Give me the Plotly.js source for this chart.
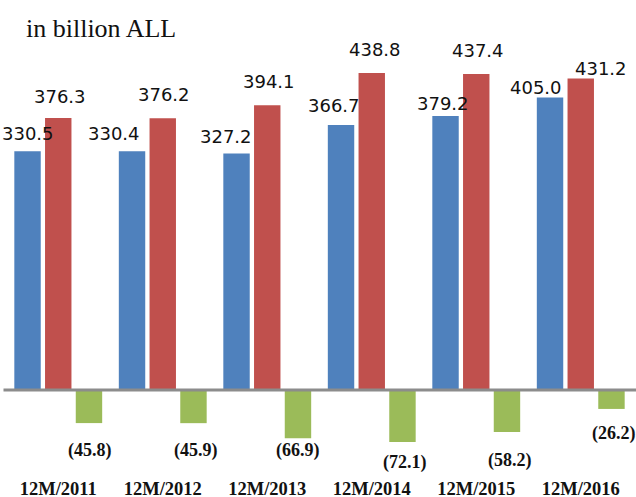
<!DOCTYPE html>
<html>
<head>
<meta charset="utf-8">
<script src="https://cdn.plot.ly/plotly-3.0.1.min.js"></script>
<style>html,body{margin:0;padding:0;background:#fff;}#chart{width:636px;height:497px;}</style>
</head>
<body>
<div id="chart"></div>
<script>
// ---- data ----
var categories = ["12M/2011", "12M/2012", "12M/2013", "12M/2014", "12M/2015", "12M/2016"];
var seriesBlue = [330.5, 330.4, 327.2, 366.7, 379.2, 405.0];
var seriesRed = [376.3, 376.2, 394.1, 438.8, 437.4, 431.2];
var seriesGreen = [-45.8, -45.9, -66.9, -72.1, -58.2, -26.2];
var titleText = "in billion ALL";

// ---- label nudges (pixels, styling only) ----
var blueDx = [0, -18, -11, -7.5, -3, -14.5], blueDy = [18, 18, 17, 20, 13, 9.5];
var redDx = [2, 1.5, 2, 3.5, 2, 20.5], redDy = [22, 24, 24, 23.5, 23.5, 9.5];
var greenDx = [1, 3, 0, 3, 3.5, 2.5], greenDy = [27.5, 27.5, 12.5, 20, 28, 25];

var W = 636, H = 497;
var mL = 6, mR = 3, mT = 40, mB = 27;
var bargap = 0.118, bargroupgap = 0.14;
var catPx = (W - mL - mR) / categories.length;
var slotPx = catPx * (1 - bargap) / 3;

var colors = ["#4F81BD", "#C0504D", "#9BBB59"];
var all = [seriesBlue, seriesRed, seriesGreen];
var traces = all.map(function (vals, i) {
  return {
    type: "bar", x: categories, y: vals,
    marker: {color: colors[i], line: {width: 0}},
    hoverinfo: "skip", showlegend: false
  };
});

function fmt(v) { return Math.abs(v).toFixed(1); }
var ann = [];
categories.forEach(function (c, k) {
  ann.push({x: c, y: seriesBlue[k], xref: "x", yref: "y", text: fmt(seriesBlue[k]),
    showarrow: false, xanchor: "center", yanchor: "middle",
    xshift: -slotPx + blueDx[k], yshift: blueDy[k],
    font: {family: "DejaVu Sans", size: 18, color: "#111"}});
  ann.push({x: c, y: seriesRed[k], xref: "x", yref: "y", text: fmt(seriesRed[k]),
    showarrow: false, xanchor: "center", yanchor: "middle",
    xshift: redDx[k], yshift: redDy[k],
    font: {family: "DejaVu Sans", size: 18, color: "#111"}});
  ann.push({x: c, y: seriesGreen[k], xref: "x", yref: "y", text: "(" + fmt(seriesGreen[k]) + ")",
    showarrow: false, xanchor: "center", yanchor: "middle",
    xshift: slotPx + greenDx[k], yshift: -greenDy[k],
    font: {family: "Liberation Serif", size: 18, color: "#111", weight: "bold"}});
});

var zeroPx = 390;
var yTop = (zeroPx - mT) / 0.7225;
var yBot = -(H - mB - zeroPx) / 0.7225;

var layout = {
  width: W, height: H,
  margin: {l: mL, r: mR, t: mT, b: mB, autoexpand: false},
  paper_bgcolor: "#fff", plot_bgcolor: "#fff",
  barmode: "group", bargap: bargap, bargroupgap: bargroupgap,
  title: {text: titleText, xref: "container", yref: "container", x: 26 / W, xanchor: "left",
    y: 1 - 28 / H, yanchor: "middle",
    font: {family: "Liberation Serif", size: 26, color: "#111"}},
  xaxis: {type: "category", range: [-0.5, categories.length - 0.5], autorange: false,
    showgrid: false, zeroline: false, showline: false, ticks: "",
    automargin: false, ticklabelstandoff: 5,
    tickfont: {family: "Liberation Serif", size: 18.5, color: "#111", weight: "bold"}},
  yaxis: {range: [yBot, yTop], autorange: false, showgrid: false, zeroline: false, showline: false,
    showticklabels: false, ticks: "", automargin: false},
  shapes: [{type: "line", xref: "paper", yref: "y", x0: -0.004, x1: 1.01, y0: 0, y1: 0,
    line: {color: "#8C8C8C", width: 3}, layer: "above"}],
  annotations: ann
};

Plotly.newPlot("chart", traces, layout, {displayModeBar: false, staticPlot: true});
</script>
</body>
</html>
